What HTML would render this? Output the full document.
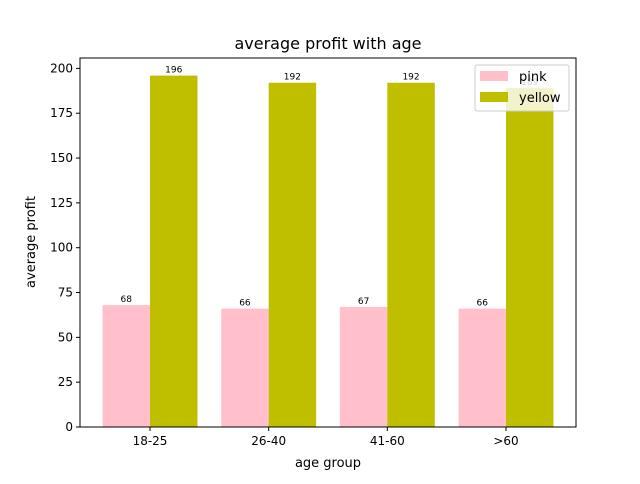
<!DOCTYPE html>
<html><head><meta charset="utf-8"><style>
body{margin:0;background:#fff;font-family:"DejaVu Sans","Liberation Sans",sans-serif}
</style></head><body>
<svg width="640" height="480" xmlns="http://www.w3.org/2000/svg" font-family="DejaVu Sans, Liberation Sans, sans-serif">
<rect width="640" height="480" fill="#fff"/>
<text x="328" y="49" font-size="16" text-anchor="middle">average profit with age</text>
<g id="bars"></g>
<g id="axes"></g>
<rect x="80" y="58" width="496" height="369" fill="none" stroke="#000" stroke-width="1"/>
<text x="328" y="467" font-size="13" text-anchor="middle">age group</text>
<text transform="translate(35,242) rotate(-90)" font-size="13" text-anchor="middle">average profit</text>
<g>
<rect x="475" y="65" width="94" height="46" rx="2" fill="#fff" fill-opacity="0.8" stroke="#ccc"/>
<rect x="480" y="71" width="28" height="10" fill="pink"/>
<text x="519" y="81" font-size="13">pink</text>
<rect x="480" y="92" width="28" height="10" fill="#bfbf00"/>
<text x="519" y="102" font-size="13">yellow</text>
</g>
</svg>
<script>
const categories=["18-25","26-40","41-60",">60"];
const pinkValues=[68,66,67,66];
const yellowValues=[196,192,192,189];
const yTicks=[0,25,50,75,100,125,150,175,200];
const NS="http://www.w3.org/2000/svg";
const L=80,R=576,T=58,B=427;
const xmin=-0.59,xmax=3.59,ymax=205.8;
const xs=v=>L+(v-xmin)/(xmax-xmin)*(R-L);
const ys=v=>B-v/ymax*(B-T);
function mk(tag,attrs,parent){const e=document.createElementNS(NS,tag);for(const k in attrs)e.setAttribute(k,attrs[k]);parent.appendChild(e);return e;}
const bars=document.getElementById('bars'),axes=document.getElementById('axes');
const w=0.4;
function series(vals,off,color,name){
 vals.forEach((v,i)=>{
  const x0=xs(i+off-w/2),x1=xs(i+off+w/2);
  const r=mk('rect',{x:x0,y:ys(v),width:x1-x0,height:B-ys(v),fill:color},bars);
  
  
  const t=mk('text',{x:(x0+x1)/2,y:ys(v)-3,'font-size':'9','text-anchor':'middle'},bars);
  t.textContent=v;
  
  
 });
}
series(pinkValues,-0.2,'pink','pink');
series(yellowValues,0.2,'#bfbf00','yellow');
categories.forEach((c,i)=>{
 const x=xs(i);
 mk('line',{x1:x,x2:x,y1:B,y2:B+4,stroke:'#000'},axes);
 const t=mk('text',{x:x,y:B+18,'font-size':'12','text-anchor':'middle'},axes);
 t.textContent=c;
 
 
});
yTicks.forEach(v=>{
 const y=ys(v);
 mk('line',{x1:L-4,x2:L,y1:y,y2:y,stroke:'#000'},axes);
 const t=mk('text',{x:L-7,y:y+4,'font-size':'12','text-anchor':'end'},axes);
 t.textContent=v;
 
 
});
</script>
</body></html>
